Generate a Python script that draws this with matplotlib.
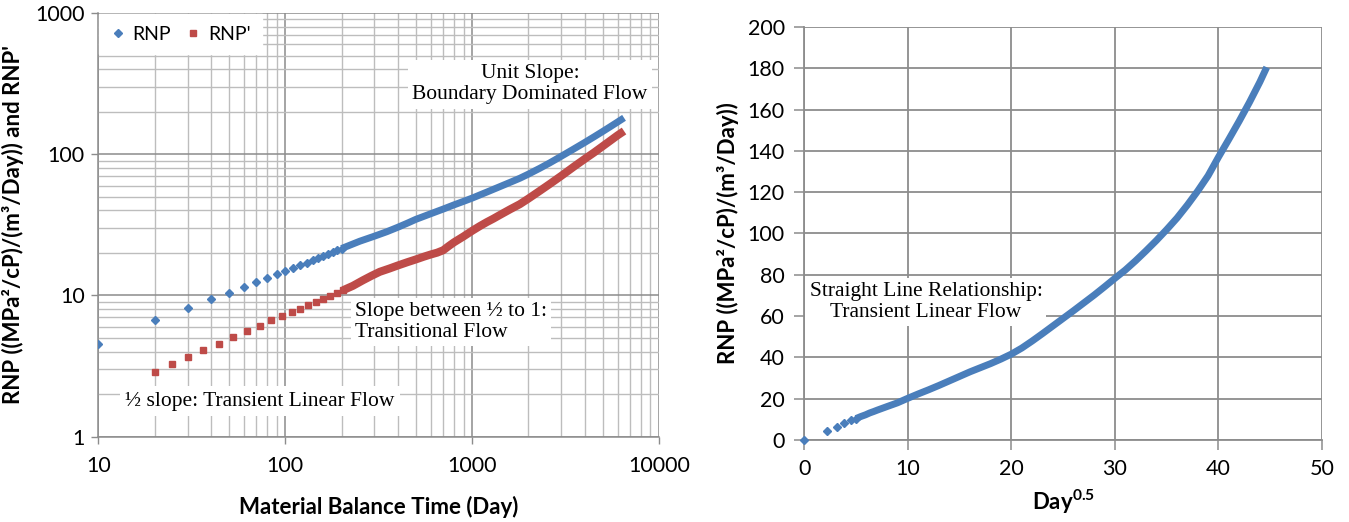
import matplotlib
matplotlib.use("Agg")
import matplotlib.pyplot as plt
from matplotlib.lines import Line2D
from matplotlib.ticker import FixedLocator, FuncFormatter, LogLocator, NullFormatter

plt.rcParams["font.family"] = ["Lato", "DejaVu Sans"]
plt.rcParams["mathtext.fontset"] = "custom"
plt.rcParams["mathtext.rm"] = "Lato"
plt.rcParams["mathtext.bf"] = "Lato:bold"

BLUE = "#4A7EBB"
RED = "#BE4B48"
GRID_MAJOR = "#8C8C8C"
GRID_MINOR = "#BDBDBD"
SERIF = "Liberation Serif"

# RNP against material balance time (days)
mbt_rnp = [10, 20, 30, 40, 50, 60, 70, 80, 90, 100, 110, 120, 130, 140, 150,
           160, 170, 180, 190, 200, 250, 300, 350, 400, 450, 500, 600, 700,
           800, 900, 1000, 1200, 1400, 1600, 1800, 2000, 2300, 2600, 3000,
           3500, 4000, 4500, 5000, 5500, 6000, 6500]
rnp = [4.54, 6.65, 8.18, 9.42, 10.4, 11.5, 12.4, 13.2, 14.1, 15.0, 15.6, 16.4,
       17.1, 17.8, 18.5, 19.1, 19.7, 20.3, 20.9, 21.5, 24.2, 26.3, 28.3, 30.4,
       32.5, 34.6, 37.9, 40.9, 43.8, 46.4, 48.9, 54.0, 58.8, 63.3, 67.6, 72.3,
       79.5, 86.8, 96.8, 109, 121, 133, 145, 157, 169, 181]
n_rnp_sparse = 20

# RNP' (derivative) against material balance time
mbt_deriv = [20, 24.6, 30, 36.3, 43.9, 52.4, 62.4, 73, 84, 95.8, 108.5, 120,
             132.7, 146, 160, 174, 189, 204, 230, 260, 290, 320, 360, 400, 450,
             500, 550, 600, 650, 700, 750, 800, 900, 1000, 1100, 1200, 1300,
             1400, 1600, 1800, 2000, 2300, 2600, 3000, 3500, 4000, 4500, 5000,
             5500, 6000, 6500]
rnp_deriv = [2.89, 3.26, 3.65, 4.12, 4.57, 5.08, 5.60, 6.11, 6.65, 7.10, 7.60,
             8.03, 8.55, 9.0, 9.45, 9.95, 10.45, 10.9, 11.7, 12.8, 13.8, 14.7,
             15.5, 16.3, 17.2, 18.0, 18.8, 19.5, 20.1, 20.9, 22.4, 23.8, 26.2,
             28.7, 31.0, 33.1, 35.0, 37.0, 40.8, 44.3, 48.5, 55.0, 61.5, 70.3,
             81.6, 92.5, 103, 114, 125, 136, 146]
n_deriv_sparse = 18

# RNP against square root of time
sqrt_day = [0, 2.24, 3.16, 3.87, 4.47, 5.0, 5.48, 5.92, 6.32, 6.71, 7.07, 8, 9,
            10, 11, 12, 13, 14, 15, 16, 17, 18, 19, 20, 21, 22, 23, 24, 25, 26,
            27, 28, 29, 30, 31, 32, 33, 34, 35, 36, 37, 38, 39, 40, 41, 42, 43,
            44, 44.66]
rnp_sqrt = [0, 4.4, 6.4, 8.1, 9.5, 10.4, 11.4, 12.2, 13.1, 13.8, 14.5, 16.2,
            18.0, 20.2, 22.3, 24.3, 26.4, 28.6, 30.8, 33.0, 35.0, 37.0, 39.2,
            41.6, 44.5, 47.9, 51.5, 55.2, 58.9, 62.6, 66.4, 70.2, 74.2, 78.3,
            82.3, 86.8, 91.6, 96.6, 101.9, 107.5, 113.8, 120.6, 128.0, 137.0,
            145.6, 154.4, 163.6, 173.4, 180.5]
n_sqrt_sparse = 6

fig = plt.figure(figsize=(13.49, 5.22), dpi=100)
ax1 = fig.add_axes([0.0730, 0.1634, 0.4155, 0.8117])
ax2 = fig.add_axes([0.5962, 0.1571, 0.3838, 0.7912])

TICK_FS = 15.5
LABEL_FS = 16
NOTE_FS = 15.5
DIAMOND_MS = 4.0
SQUARE_MS = 4.8

# ---- log-log plot ----
ax1.set_xscale("log")
ax1.set_yscale("log")
ax1.set_xlim(10, 10000)
ax1.set_ylim(1, 1000)

ax1.plot(mbt_rnp[:n_rnp_sparse], rnp[:n_rnp_sparse], ls="none", marker="D",
         ms=DIAMOND_MS, color=BLUE, mec=BLUE, zorder=4)
ax1.plot(mbt_rnp[n_rnp_sparse - 1:], rnp[n_rnp_sparse - 1:], color=BLUE, lw=5,
         solid_capstyle="butt", zorder=4)
ax1.plot(mbt_deriv[:n_deriv_sparse], rnp_deriv[:n_deriv_sparse], ls="none",
         marker="s", ms=SQUARE_MS, color=RED, mec=RED, zorder=3)
ax1.plot(mbt_deriv[n_deriv_sparse - 1:], rnp_deriv[n_deriv_sparse - 1:],
         color=RED, lw=5.8, solid_capstyle="butt", zorder=3)

ax1.xaxis.set_major_locator(FixedLocator([10, 100, 1000, 10000]))
ax1.yaxis.set_major_locator(FixedLocator([1, 10, 100, 1000]))
ax1.xaxis.set_minor_locator(LogLocator(base=10, subs=range(2, 10)))
ax1.yaxis.set_minor_locator(LogLocator(base=10, subs=range(2, 10)))
ax1.xaxis.set_minor_formatter(NullFormatter())
ax1.yaxis.set_minor_formatter(NullFormatter())
plain = FuncFormatter(lambda v, p: f"{v:g}")
ax1.xaxis.set_major_formatter(plain)
ax1.yaxis.set_major_formatter(plain)
ax1.grid(True, which="major", color=GRID_MAJOR, lw=1.1, zorder=0)
ax1.grid(True, which="minor", color=GRID_MINOR, lw=1.0, zorder=0)
ax1.tick_params(which="major", direction="out", length=5, width=1,
                color=GRID_MAJOR, labelsize=TICK_FS, pad=5)
ax1.tick_params(axis="x", which="major", pad=9)
ax1.tick_params(which="minor", length=0)
ax1.set_axisbelow(True)

ax1.set_xlabel("Material Balance Time (Day)", fontsize=LABEL_FS,
               fontweight="bold", labelpad=14)
ax1.set_ylabel("RNP ((MPa²/cP)/(m³/Day)) and RNP'", fontsize=LABEL_FS,
               fontweight="bold", labelpad=8)

handles = [Line2D([], [], ls="none", marker="D", ms=DIAMOND_MS, color=BLUE),
           Line2D([], [], ls="none", marker="s", ms=SQUARE_MS, color=RED)]
leg = ax1.legend(handles, ["RNP", "RNP'"], loc="upper left", ncol=2,
                 fontsize=14, frameon=True, borderaxespad=0.05,
                 handlelength=0.7, handletextpad=0.4, columnspacing=0.8,
                 borderpad=0.6, fancybox=False)
leg.get_frame().set_edgecolor("white")
leg.get_frame().set_alpha(1)

box = dict(facecolor="white", edgecolor="none", pad=3)
ax1.text(2040, 312, "Unit Slope:\nBoundary Dominated Flow", ha="center",
         va="center", fontsize=NOTE_FS, family=SERIF, bbox=box, zorder=5,
         linespacing=1.15)
ax1.text(236, 6.5, "Slope between ½ to 1:\nTransitional Flow", ha="left",
         va="center", fontsize=NOTE_FS, family=SERIF, bbox=box, zorder=5,
         linespacing=1.15)
ax1.text(13.9, 1.78, "½ slope: Transient Linear Flow", ha="left",
         va="center", fontsize=NOTE_FS, family=SERIF,
         bbox=dict(facecolor="white", edgecolor="none", pad=4), zorder=5)

for side in ("top", "right"):
    ax1.spines[side].set_visible(False)
for side in ("left", "bottom"):
    ax1.spines[side].set_color(GRID_MAJOR)
    ax1.spines[side].set_linewidth(1.1)

# ---- square-root-of-time plot ----
ax2.set_xlim(0, 50)
ax2.set_ylim(0, 200)
ax2.plot(sqrt_day[:n_sqrt_sparse], rnp_sqrt[:n_sqrt_sparse], ls="none",
         marker="D", ms=DIAMOND_MS, color=BLUE, mec=BLUE, zorder=4,
         clip_on=False)
ax2.plot(sqrt_day[n_sqrt_sparse - 1:], rnp_sqrt[n_sqrt_sparse - 1:],
         color=BLUE, lw=5, solid_capstyle="butt", zorder=4)
ax2.xaxis.set_major_locator(FixedLocator(range(0, 51, 10)))
ax2.yaxis.set_major_locator(FixedLocator(range(0, 201, 20)))
ax2.grid(True, color=GRID_MAJOR, lw=1.3, zorder=0)
ax2.set_axisbelow(True)
ax2.tick_params(direction="out", length=7, width=1.1, color=GRID_MAJOR,
                labelsize=TICK_FS, pad=7)
ax2.set_xlabel(r"$\mathbf{Day^{0.5}}$", fontsize=LABEL_FS, labelpad=6)
ax2.set_ylabel("RNP ((MPa²/cP)/(m³/Day))", fontsize=LABEL_FS,
               fontweight="bold", labelpad=6)
ax2.text(11.75, 66.8, "Straight Line Relationship:\nTransient Linear Flow",
         ha="center", va="center", fontsize=NOTE_FS, family=SERIF, bbox=box,
         zorder=5, linespacing=1.15)
for side in ("top", "right"):
    ax2.spines[side].set_visible(False)
for side in ("left", "bottom"):
    ax2.spines[side].set_color(GRID_MAJOR)
    ax2.spines[side].set_linewidth(1.3)

fig.savefig("out.png", dpi=100)
